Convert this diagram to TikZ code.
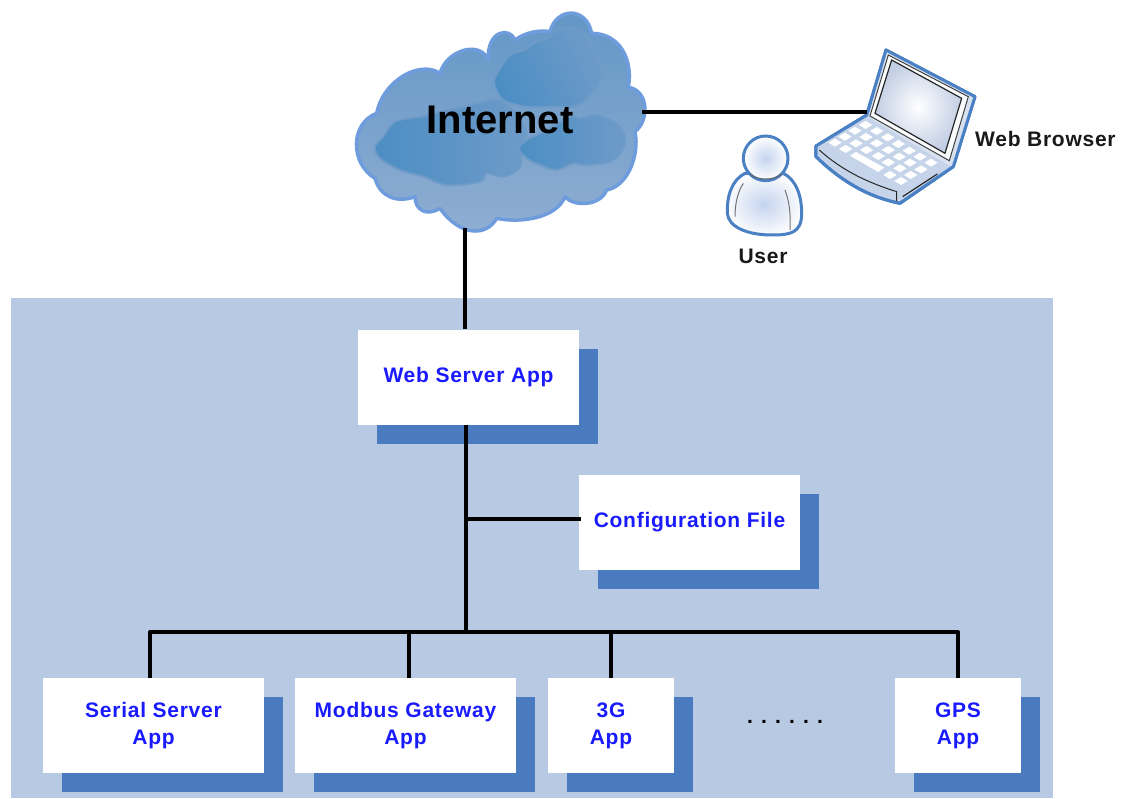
\documentclass[tikz,border=0pt]{standalone}
\usepackage{fontspec}
\setmainfont{Liberation Sans}
\newfontfamily\lblfont[LetterSpace=3.5]{Liberation Sans Bold}
\newfontfamily\dotfont[LetterSpace=39]{Liberation Sans Bold}
\usetikzlibrary{shadows,calc}
\definecolor{panel}{HTML}{B8C9E3}
\definecolor{shade}{HTML}{4A7ABF}
\definecolor{txtblue}{HTML}{1A1AFF}
\definecolor{edgeblue}{HTML}{4A80C4}
\definecolor{cloudedge}{HTML}{6E9CDC}
\definecolor{cloudtop}{HTML}{6296C6}
\definecolor{cloudbot}{HTML}{90AED2}
\definecolor{innerdark}{HTML}{4C8EC4}
\definecolor{innerlight}{HTML}{6E9BC8}
\definecolor{lapbase}{HTML}{C6D4EA}
\definecolor{screenedge}{HTML}{C2CEE4}
\definecolor{bodyc}{HTML}{C4D4EE}
\tikzset{
  x=1pt,y=-1pt,
  appbox/.style={fill=white,draw=none,inner sep=0pt,minimum height=95pt,align=center,
    text=txtblue,font=\lblfont\fontsize{21}{27}\selectfont,
    copy shadow={shadow xshift=19pt,shadow yshift=-19pt,fill=shade,draw=none}},
  wide/.style={minimum width=221pt},
  narrow/.style={minimum width=126pt},
  wire/.style={line width=4pt,black},
  lbl/.style={inner sep=0pt,font=\lblfont\fontsize{21}{24}\selectfont,text=black!90},
  zoomA/.style={shift={(340pt,0pt)},x=0.3333pt,y=-0.3333pt},
  zoomB/.style={shift={(700pt,-40pt)},x=0.3333pt,y=-0.3333pt},
  outline/.style={draw=edgeblue,line width=3pt,line join=round},
  puff/.style={left color=innerdark,right color=innerlight,draw=innerlight,line width=2pt},
}
\begin{document}
\begin{tikzpicture}
\useasboundingbox (0,0) rectangle (1121,798);
\fill[white] (0,0) rectangle (1121,798);
% panel
\fill[panel] (11,298) rectangle (1053,798);

% cloud
\begin{scope}[zoomA]
\draw[draw=cloudedge,line width=3.5pt,top color=cloudtop,bottom color=cloudbot,line join=round]
  (110,340) .. controls (130,240) and (240,180) .. (300,220)
  .. controls (320,150) and (420,120) .. (445,180)
  .. controls (440,90) and (510,80) .. (525,120)
  .. controls (560,95) and (600,90) .. (630,95)
  .. controls (650,20) and (740,20) .. (755,100)
  .. controls (840,100) and (880,180) .. (865,262)
  .. controls (925,270) and (930,360) .. (885,395)
  .. controls (900,470) and (860,560) .. (800,570)
  .. controls (780,620) and (700,620) .. (675,590)
  .. controls (650,655) and (540,670) .. (470,655)
  .. controls (440,710) and (360,710) .. (300,625)
  .. controls (260,650) and (225,630) .. (225,590)
  .. controls (170,610) and (120,590) .. (105,535)
  .. controls (30,490) and (30,370) .. (110,340) -- cycle;
\path[puff,shading angle=115]
  plot[smooth cycle,tension=0.6] coordinates {(462,250) (475,215) (510,165) (555,150) (580,130) (620,115) (650,90) (700,85) (745,110) (775,170) (785,215) (770,260) (735,300) (700,320) (640,320) (560,320) (490,300)};
\path[puff]
  plot[smooth cycle,tension=0.6] coordinates {(105,440) (130,410) (165,365) (240,350) (300,335) (350,325) (430,305) (480,300) (520,330) (560,400) (540,440) (540,500) (490,530) (440,520) (420,545) (320,555) (250,530) (180,510) (120,475)};
\path[puff]
  plot[smooth cycle,tension=0.6] coordinates {(537,445) (560,420) (610,395) (690,350) (720,355) (770,345) (835,375) (855,425) (820,480) (740,495) (700,490) (650,510) (600,495) (560,475)};
\coordinate (cloudE) at (905,337);
\coordinate (cloudS) at (375,684);
\end{scope}
\node[inner sep=0pt,anchor=base,text=black,font=\bfseries\fontsize{40}{48}\selectfont] (inet) at (500,133) {Internet};

% laptop
\begin{scope}[zoomB]
\draw[outline,fill=lapbase] (500,225) -- (558,30) -- (825,170) -- (760,380) -- (600,490)
  .. controls (500,470) and (420,420) .. (348,350) -- (348,318) -- cycle;
\fill[lapbase!70!white] (558,30) -- (825,170) -- (760,380) -- (745,375) -- (505,232) -- cycle;
\draw[outline] (500,225) -- (558,30) -- (825,170) -- (760,380);
\draw[black!75,line width=1pt,fill=white!90!lapbase] (565,45) -- (805,170) -- (748,362) -- (510,228) -- cycle;
\shade[inner color=white,outer color=screenedge,draw=black!85,line width=1.2pt]
  (575,60) -- (785,175) -- (735,340) -- (525,220) -- cycle;
\fill[lapbase] (505,232) -- (745,378) -- (600,455) -- (352,320) -- cycle;
\foreach \x/\y in {497/255,530/273,563/292,595/312,628/332,660/350,693/368,
  465/272,498/291,530/310,565/330,598/350,630/368,663/388,
  435/290,468/310,500/330,535/348,565/367,600/385,632/405,
  405/308,437/327,570/405,603/423}
  \fill[white] (\x-20,\y) -- (\x,\y-12) -- (\x+20,\y) -- (\x,\y+12) -- cycle;
\fill[white] (450,347) -- (468,336) -- (553,383) -- (535,396) -- cycle;
\draw[black!85,line width=1pt] (358,330) .. controls (430,395) and (510,430) .. (590,455) -- (590,487);
\draw[black!85,line width=1.2pt] (608,470) -- (712,402);
\draw[outline] (500,225) -- (348,318) -- (348,350) .. controls (420,420) and (500,470) .. (600,490) -- (760,380);
\coordinate (lapW) at (500,218);
\end{scope}
\node[lbl,anchor=base west] (browser) at (975,146) {Web Browser};

% user
\begin{scope}[zoomB]
\shade[inner color=bodyc,outer color=white!92!bodyc,draw=edgeblue,line width=3pt,line join=round]
  (135,400) .. controls (95,420) and (80,470) .. (82,520)
  .. controls (85,560) and (140,585) .. (215,585)
  .. controls (270,585) and (305,580) .. (305,520)
  .. controls (305,470) and (290,420) .. (250,400) -- cycle;
\draw[black!55,line width=1pt] (130,430) .. controls (110,460) and (105,500) .. (105,530);
\draw[black!55,line width=1pt] (255,450) .. controls (270,490) and (272,530) .. (270,570);
\shade[inner color=bodyc,outer color=white,draw=edgeblue,line width=3pt] (197,355) circle[radius=67];
\draw[black!60,line width=1pt] (150,402) .. controls (170,422) and (225,422) .. (245,402);
\end{scope}
\node[lbl,anchor=base] (user) at (763,263) {User};

% boxes
\node[appbox,wide] (web) at (468.5,377) {Web Server App};
\node[appbox,wide] (conf) at (689.5,522.5) {Configuration File};
\node[appbox,wide] (serial) at (153.5,725.5) {Serial Server\\App};
\node[appbox,wide] (modbus) at (405.5,725.5) {Modbus Gateway\\App};
\node[appbox,narrow] (three) at (611,725.5) {3G\\App};
\node[appbox,narrow] (gps) at (958,725.5) {GPS\\App};
\node[inner sep=0pt,anchor=base,font=\dotfont\fontsize{21}{24}\selectfont,text=black] (dots) at (785,723) {......};

% connectors
\coordinate (trunk) at (466,632);
\coordinate (tee) at (466,519);
\coordinate (busW) at (150,632);
\coordinate (busE) at (958,632);
\draw[wire] (cloudE) -- (cloudE -| lapW);
\draw[wire] (cloudS) -- (cloudS |- web.north);
\draw[wire] (trunk |- web.south) -- (trunk);
\draw[wire] (tee) -- ([xshift=2pt]tee -| conf.west);
\draw[wire,line join=round] (busW |- serial.north) -- (busW) -- (busE) -- (gps.north);
\draw[wire] (409,632) -- (modbus.north -| 409,0);
\draw[wire] (three.north |- trunk) -- (three.north);
\end{tikzpicture}
\end{document}
